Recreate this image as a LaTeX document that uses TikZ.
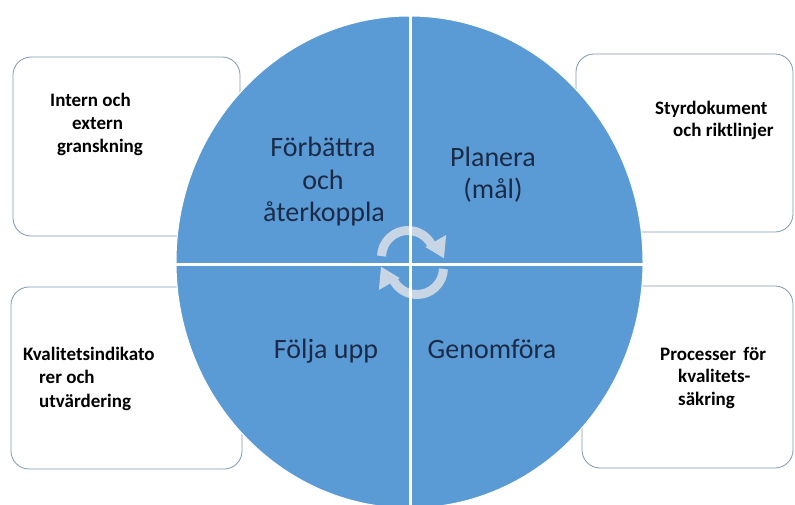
\documentclass[tikz,border=0pt]{standalone}
\usepackage{fontspec}
\setmainfont{Carlito}
\usetikzlibrary{calc}
\definecolor{qblue}{HTML}{5B9BD5}
\definecolor{navy}{HTML}{1B2A47}
\definecolor{boxline}{HTML}{8198B0}
\definecolor{ringc}{HTML}{C8D5E5}
\begin{document}
\begin{tikzpicture}[x=1pt,y=-1pt,
  infobox/.style={draw=boxline, line width=0.8pt, fill=white, rounded corners=18pt},
  boxtxt/.style={font=\fontsize{19}{23}\selectfont\bfseries, text=black, inner sep=0pt, anchor=base west},
  circtxt/.style={font=\fontsize{28}{33}\selectfont, text=navy, inner sep=0pt, anchor=base},
  ring/.style={draw=ringc, line width=9pt},
  ringhead/.style={fill=ringc},
  divider/.style={draw=white, line width=3pt}]
\clip (0,0) rectangle (795,505);
\fill[white] (0,0) rectangle (795,505);
% boxes
\draw[infobox] (13,57) rectangle (240,236);
\draw[infobox] (576,54) rectangle (793,232);
\draw[infobox] (11,287) rectangle (242,469);
\draw[infobox] (582,286) rectangle (793,468);
% circle
\fill[qblue, draw=white, line width=1pt] (409.5,262) ellipse [x radius=233.5, y radius=246];
% ring arrows
\coordinate (c1) at (408,257);
\coordinate (c2) at (417,268);
\draw[ring] (c1) ++(-178:26.5) arc[start angle=-178, end angle=-28, radius=26.5];
\fill[ringhead] ($(c1)+(-30:20)$) -- ($(c1)+(-30:44)$) -- ($(c1)+(2:36)$) -- cycle;
\draw[ring] (c2) ++(2:26.5) arc[start angle=2, end angle=152, radius=26.5];
\fill[ringhead] ($(c2)+(150:20)$) -- ($(c2)+(150:44)$) -- ($(c2)+(182:36)$) -- cycle;
% dividers
\begin{scope}
\clip (409.5,262) ellipse [x radius=233.5, y radius=246];
\coordinate (vtop) at (410,0);
\coordinate (vbot) at (410,510);
\coordinate (hl) at (170,264);
\coordinate (hr) at (650,264);
\draw[divider] (vtop) -- (vbot);
\draw[divider] (hl) -- (hr);
\end{scope}
% circle texts
\node[circtxt] (f1) at (323,157) {Förbättra};
\node[circtxt] (f2) at (323,190) {och};
\node[circtxt] (f3) at (324,222) {återkoppla};
\node[circtxt] (p1) at (493,167) {Planera};
\node[circtxt] (p2) at (493,199) {(mål)};
\node[circtxt] (u1) at (326,358) {Följa upp};
\node[circtxt] (g1) at (492,358) {Genomföra};
% box texts
\node[boxtxt] (a1) at (50,107) {Intern och};
\node[boxtxt] (a2) at (72,130) {extern};
\node[boxtxt] (a3) at (57,153) {granskning};
\node[boxtxt] (b1) at (655,115) {Styrdokument};
\node[boxtxt] (b2) at (673,137) {och riktlinjer};
\node[boxtxt] (c1t) at (23,360) {Kvalitetsindikato};
\node[boxtxt] (c2t) at (39,383) {rer och};
\node[boxtxt] (c3t) at (39,407) {utvärdering};
\node[boxtxt] (d1) at (660,360) {Processer\, för};
\node[boxtxt] (d2) at (678,382) {kvalitets-};
\node[boxtxt] (d3) at (678,405) {säkring};
\end{tikzpicture}
\end{document}
